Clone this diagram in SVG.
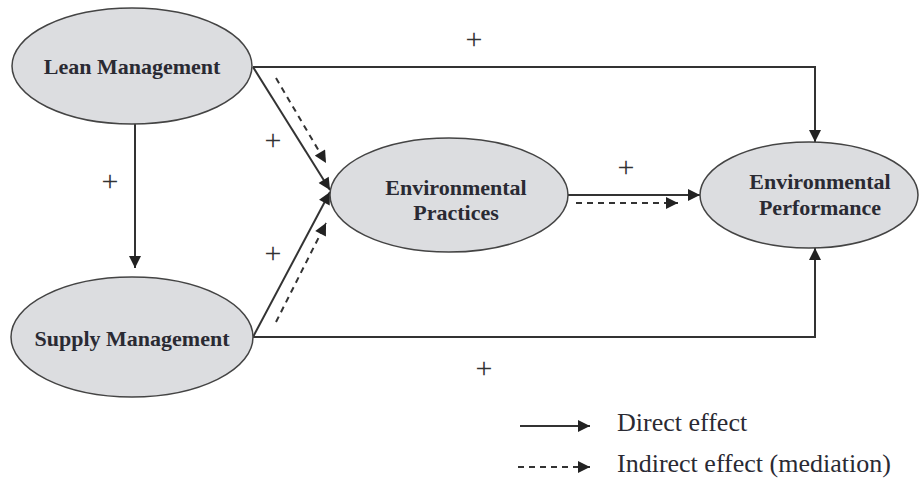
<svg xmlns="http://www.w3.org/2000/svg" width="919" height="480" viewBox="0 0 919 480">
  <defs>
    <marker id="headBig" viewBox="0 0 10 10" refX="10" refY="5" markerWidth="14" markerHeight="12" markerUnits="userSpaceOnUse" orient="auto">
      <path d="M0,0 L10,5 L0,10 Z" fill="#222"/>
    </marker>
  </defs>
  <style>
    .node { fill: #dcdde0; stroke: #444; stroke-width: 1.5; }
    .label { font-family: "Liberation Serif", "Times New Roman", serif; font-weight: bold; font-size: 22px; fill: #2a2a33; text-anchor: middle; }
    .plus { font-family: "Liberation Serif", "Times New Roman", serif; font-size: 30px; fill: #333; text-anchor: middle; }
    .legend { font-family: "Liberation Serif", "Times New Roman", serif; font-size: 26px; fill: #2a2a33; }
    .direct { fill: none; stroke: #333; stroke-width: 2; marker-end: url(#headBig); }
    .indirect { fill: none; stroke: #333; stroke-width: 2; stroke-dasharray: 6 5; marker-end: url(#headBig); }
  </style>
  <rect width="919" height="480" fill="#fff"/>

  <g id="connectors">
    <!-- Lean -> Performance (over the top) -->
    <path class="direct" d="M253,67 H815 V142"/>
    <!-- Supply -> Performance (under the bottom) -->
    <path class="direct" d="M253,337 H815 V248"/>
    <!-- Lean -> Supply -->
    <path class="direct" d="M135,124 V268"/>
    <!-- Lean -> Practices -->
    <path class="direct" d="M253,67 L330,190"/>
    <path class="indirect" d="M276,78 L326,163"/>
    <!-- Supply -> Practices -->
    <path class="direct" d="M253,337 L330,192"/>
    <path class="indirect" d="M276,322 L326,223"/>
    <!-- Practices -> Performance -->
    <path class="direct" d="M568,195 L700,195"/>
    <path class="indirect" d="M576,203 L678,203"/>
  </g>

  <g id="lean-management">
    <ellipse class="node" cx="132" cy="66" rx="120" ry="58"/>
    <text class="label" x="132" y="74">Lean Management</text>
  </g>
  <g id="supply-management">
    <ellipse class="node" cx="132" cy="337" rx="121" ry="60"/>
    <text class="label" x="132" y="346">Supply Management</text>
  </g>
  <g id="environmental-practices">
    <ellipse class="node" cx="449" cy="195" rx="119" ry="57"/>
    <text class="label" x="456" y="195">Environmental</text>
    <text class="label" x="456" y="220">Practices</text>
  </g>
  <g id="environmental-performance">
    <ellipse class="node" cx="809" cy="195" rx="109" ry="53"/>
    <text class="label" x="820" y="189">Environmental</text>
    <text class="label" x="820" y="215">Performance</text>
  </g>

  <g id="signs">
    <text class="plus" x="474" y="49">+</text>
    <text class="plus" x="273" y="150">+</text>
    <text class="plus" x="110" y="191">+</text>
    <text class="plus" x="273" y="263">+</text>
    <text class="plus" x="626" y="177">+</text>
    <text class="plus" x="484" y="378">+</text>
  </g>

  <g id="legend">
    <path class="direct" d="M520,426 L590,426"/>
    <text class="legend" x="617" y="431">Direct effect</text>
    <path class="indirect" d="M518,467 L590,467"/>
    <text class="legend" x="617" y="472">Indirect effect (mediation)</text>
  </g>
</svg>
